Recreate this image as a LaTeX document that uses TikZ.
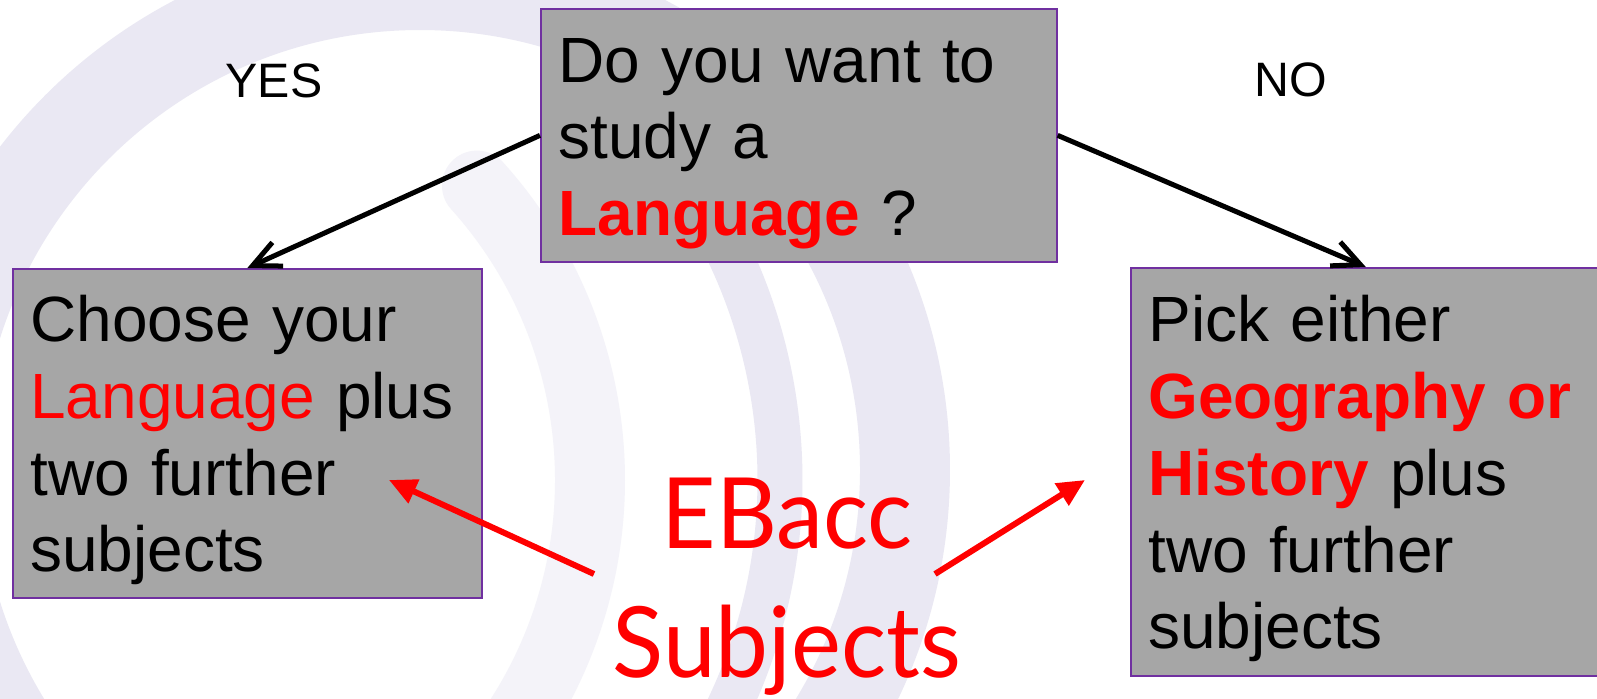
\documentclass[tikz,border=0pt]{standalone}
\usepackage{fontspec}
\setmainfont{Liberation Sans}
\newfontfamily\ebaccfont{Lato}[FakeStretch=0.96]
\usetikzlibrary{arrows.meta,positioning}

\definecolor{boxgray}{RGB}{166,166,166}
\definecolor{boxedge}{RGB}{112,48,160}
\definecolor{swirl}{RGB}{234,232,243}
\definecolor{swirllight}{RGB}{244,243,249}

\begin{document}
\begin{tikzpicture}[
    x=0.02cm, y=-0.02cm,
    box/.style={draw=boxedge, line width=1pt, fill=boxgray, rectangle, anchor=north west,
        inner xsep=0.35cm, inner ysep=0pt, align=left,
        font=\fontsize{36.4pt}{43.7pt}\selectfont,
        execute at begin node={\rule{0pt}{1.4cm}}, execute at end node={\strut}},
    answer/.style={font=\fontsize{27.5pt}{33pt}\selectfont, inner sep=0pt},
    choice/.style={draw, line width=2.85pt, -{Straight Barb[length=0.55cm,width=0.52cm]}},
    pointer/.style={draw=red, line width=3.4pt, -{Triangle[length=0.55cm,width=0.5cm]}}
]
    % Background swirl
    \fill[white] (0,0) rectangle (1597,698);
    \clip (0,0) rectangle (1597,698);
    \draw[swirllight, line width=1.4cm, line cap=round] (150,480) ++(-42:440) arc[start angle=-42, end angle=60, radius=440];
    \draw[swirl, line width=1.8cm] (420,470) circle[radius=485];
    \draw[swirl, line width=0.9cm] (250,480) ++(-30:530) arc[start angle=-30, end angle=65, radius=530];

    % Boxes
    \node[box, minimum width=10.32cm, text width=9.62cm, minimum height=5.06cm] (question) at (540,8)
        {Do you want to\\ study a\\ {\bfseries\color{red}Language} ?};
    \node[box, minimum width=9.38cm, text width=8.68cm, minimum height=6.58cm] (yesbox) at (12,268)
        {Choose your\\ {\color{red}Language} plus\\ two further\\ subjects};
    \node[box, minimum width=9.4cm, text width=8.7cm, minimum height=8.16cm] (nobox) at (1130,267)
        {Pick either\\ {\bfseries\color{red}Geography or}\\ {\bfseries\color{red}History} plus\\ two further\\ subjects};

    \node[answer] (yes) at (274,81) {YES};
    \node[answer] (no) at (1291,80) {NO};

    % Choices
    \draw[choice] (question.west) -- (yesbox.north);
    \draw[choice] (question.east) -- (nobox.north);

    % EBacc label
    \node[anchor=base, align=center, inner sep=0pt, text=red,
        font=\ebaccfont\fontsize{56pt}{73.4pt}\selectfont] (ebacc) at (787,677) {EBacc\\Subjects};
    \coordinate (ltail) at (594,574);
    \coordinate (ltip) at (389,480);
    \coordinate (rtail) at (935,574);
    \coordinate (rtip) at (1085,480);
    \draw[pointer] (ltail) -- (ltip);
    \draw[pointer] (rtail) -- (rtip);
\end{tikzpicture}
\end{document}
